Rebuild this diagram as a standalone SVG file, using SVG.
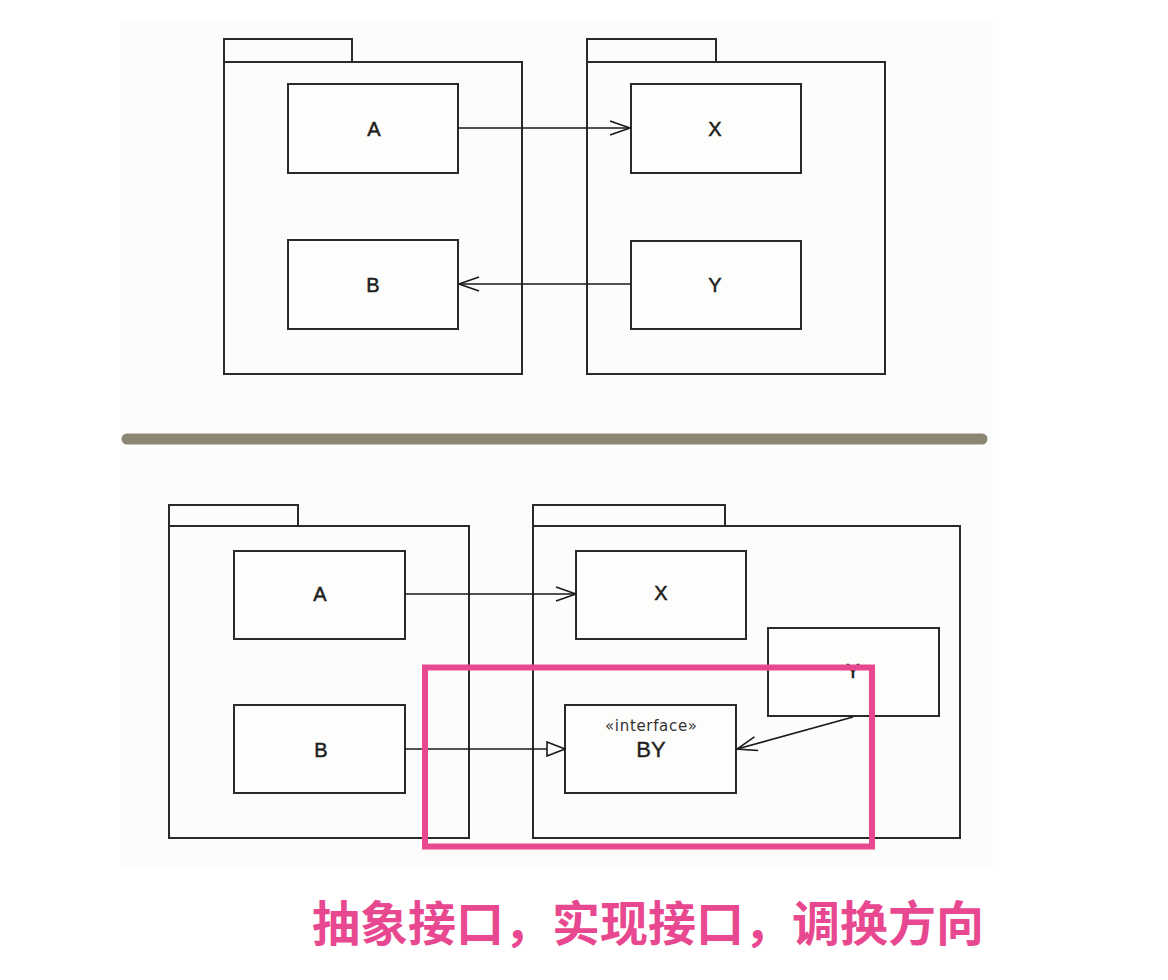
<svg xmlns="http://www.w3.org/2000/svg" width="1168" height="980" viewBox="0 0 1168 980">
<style>
.pkg{fill:none;stroke:#2a2a2a;stroke-width:2}
.cls{fill:#fdfdfb;stroke:#2a2a2a;stroke-width:2}
.lbl{font-family:"Liberation Sans",Arial,sans-serif;font-size:20px;fill:#1e1e1e;stroke:#1e1e1e;stroke-width:0.5;text-anchor:middle}
.con{fill:none;stroke:#1a1a1a;stroke-width:1.6}
</style>
<defs>
<marker id="open" viewBox="0 0 22 16" refX="21" refY="8" markerWidth="22" markerHeight="16" markerUnits="userSpaceOnUse" orient="auto">
<path d="M1,1 L21,8 L1,15" fill="none" stroke="#1a1a1a" stroke-width="1.6"/>
</marker>
<marker id="tri" viewBox="0 0 20 16" refX="19" refY="8" markerWidth="20" markerHeight="16" markerUnits="userSpaceOnUse" orient="auto">
<path d="M1,1 L19,8 L1,15 Z" fill="#fdfdfb" stroke="#1a1a1a" stroke-width="1.6"/>
</marker>
</defs>
<rect width="1168" height="980" fill="#ffffff"/>
<rect x="120" y="20" width="873" height="846" fill="#fcfcfa"/>

<!-- top half -->
<g id="pkg-top-left">
<path class="pkg" d="M224,62 V39 H352 V62"/>
<rect class="pkg" x="224" y="62" width="298" height="312"/>
</g>
<g id="pkg-top-right">
<path class="pkg" d="M587,62 V39 H716 V62"/>
<rect class="pkg" x="587" y="62" width="298" height="312"/>
</g>
<g id="top-A"><rect class="cls" x="288" y="84" width="170" height="89"/><text class="lbl" x="374" y="136">A</text></g>
<g id="top-B"><rect class="cls" x="288" y="240" width="170" height="89"/><text class="lbl" x="373" y="292">B</text></g>
<g id="top-X"><rect class="cls" x="631" y="84" width="170" height="89"/><text class="lbl" x="715" y="136">X</text></g>
<g id="top-Y"><rect class="cls" x="631" y="241" width="170" height="88"/><text class="lbl" x="715" y="292">Y</text></g>

<line id="separator" x1="127" y1="439" x2="982" y2="439" stroke="#8a8574" stroke-width="11" stroke-linecap="round"/>

<!-- bottom half -->
<g id="pkg-bottom-left">
<path class="pkg" d="M169,526 V505 H298 V526"/>
<rect class="pkg" x="169" y="526" width="300" height="312"/>
</g>
<g id="pkg-bottom-right">
<path class="pkg" d="M533,526 V505 H725 V526"/>
<rect class="pkg" x="533" y="526" width="427" height="312"/>
</g>
<g id="bottom-A"><rect class="cls" x="234" y="551" width="171" height="88"/><text class="lbl" x="320" y="601">A</text></g>
<g id="bottom-B"><rect class="cls" x="234" y="705" width="171" height="88"/><text class="lbl" x="321" y="757">B</text></g>
<g id="bottom-X"><rect class="cls" x="576" y="551" width="170" height="88"/><text class="lbl" x="661" y="600">X</text></g>
<g id="bottom-Y"><rect class="cls" x="768" y="628" width="171" height="88"/><text class="lbl" x="853" y="678">Y</text></g>
<g id="bottom-BY"><rect class="cls" x="565" y="705" width="171" height="88"/>
<text x="651" y="731" font-family="DejaVu Sans,sans-serif" font-size="15" fill="#333" text-anchor="middle" textLength="92" lengthAdjust="spacing">«interface»</text>
<text x="651" y="757" font-family="Liberation Sans,Arial,sans-serif" font-size="22" fill="#1e1e1e" stroke="#1e1e1e" stroke-width="0.4" text-anchor="middle">BY</text>
</g>

<g id="connectors">
<line class="con" x1="458" y1="128" x2="630" y2="128" marker-end="url(#open)"/>
<line class="con" x1="631" y1="284" x2="459" y2="284" marker-end="url(#open)"/>
<line class="con" x1="405" y1="594" x2="576" y2="594" marker-end="url(#open)"/>
<line class="con" x1="405" y1="749" x2="565" y2="749" marker-end="url(#tri)"/>
<line class="con" x1="853" y1="717" x2="737" y2="749" marker-end="url(#open)"/>
</g>

<rect id="highlight" x="425" y="667.5" width="447" height="179" fill="none" stroke="#e8488f" stroke-width="6"/>

<text id="caption" x="312" y="941" font-family="Noto Sans CJK SC,sans-serif" font-weight="bold" font-size="48" fill="#e8488f">抽象接口，实现接口，调换方向</text>
</svg>
